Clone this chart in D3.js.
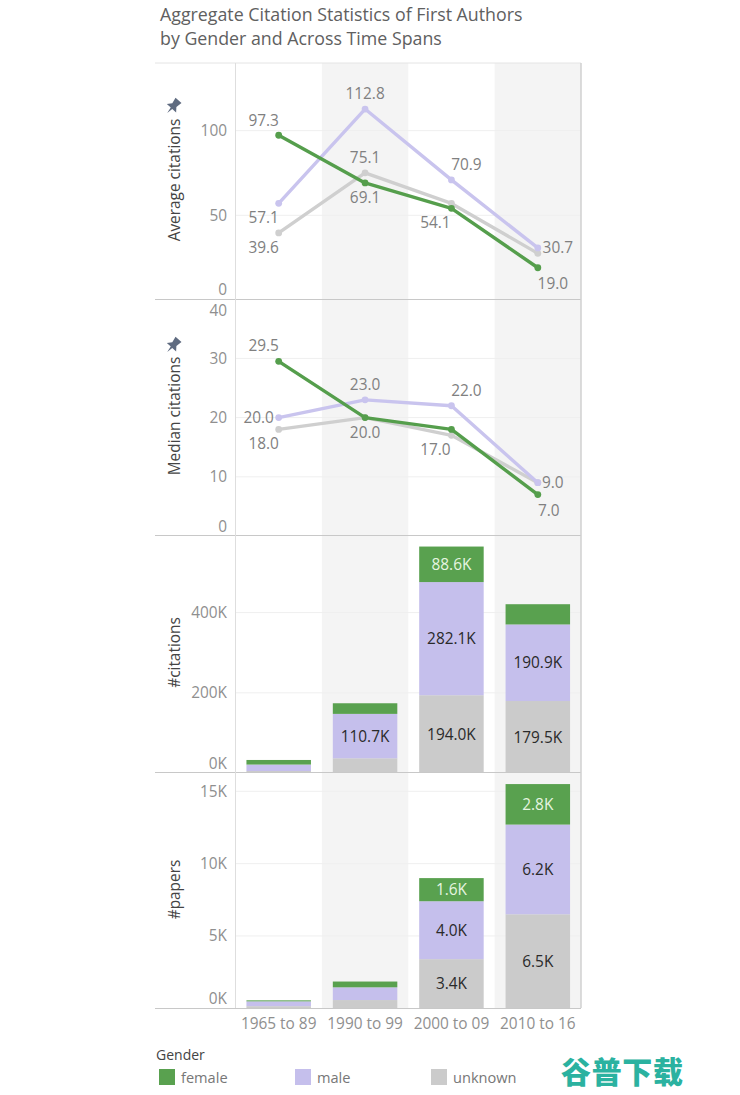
<!DOCTYPE html>
<html>
<head>
<meta charset="utf-8">
<title>Aggregate Citation Statistics</title>
<script src="https://cdn.jsdelivr.net/npm/d3@7"></script>
<style>
  html, body { margin: 0; padding: 0; background: #fff; }
  svg { display: block; font-family: "Open Sans", Lato, sans-serif; }
</style>
</head>
<body>
<svg id="chart" width="740" height="1095"></svg>
<script>
// data
const spans = ["1965 to 89", "1990 to 99", "2000 to 09", "2010 to 16"];
const genders = ["female", "male", "unknown"];

const avgFemale = [97.3, 69.1, 54.1, 19.0];
const avgMale = [57.1, 112.8, 70.9, 30.7];
const avgUnknown = [39.6, 75.1, 57.0, 27.5];

const medFemale = [29.5, 20.0, 18.0, 7.0];
const medMale = [20.0, 23.0, 22.0, 9.0];
const medUnknown = [18.0, 20.0, 17.0, 9.0];

const citFemale = [11.5, 26.5, 88.6, 50.5];
const citMale = [16, 110.7, 282.1, 190.9];
const citUnknown = [5, 36.7, 194.0, 179.5];

const papFemale = [0.07, 0.4, 1.6, 2.8];
const papMale = [0.33, 0.88, 4.0, 6.2];
const papUnknown = [0.15, 0.57, 3.4, 6.5];

const avgTicks = [0, 50, 100];
const medTicks = [0, 10, 20, 30, 40];
const citTicks = [0, 200, 400];
const papTicks = [0, 5, 10, 15];

const colors = { female: "#59a14f", male: "#c5bfec", unknown: "#cbcbcb" };
const lineColors = { female: "#559e4c", male: "#c9c4ee", unknown: "#cfcfcf" };

const svg = d3.select("#chart");
const left = 155, axisX = 235.5, right = 581;
const textSize = 15.4;

const x = d3.scaleBand().domain(spans).range([axisX, right]).paddingInner(0).paddingOuter(0);
const barW = 64.5;
const cx = d => x(d) + x.bandwidth() / 2;

// title
svg.append("text").attr("x", 160).attr("y", 21).attr("font-size", 17.8).attr("fill", "#606060")
  .text("Aggregate Citation Statistics of First Authors");
svg.append("text").attr("x", 160).attr("y", 45).attr("font-size", 17.8).attr("fill", "#606060")
  .text("by Gender and Across Time Spans");

// grey bands behind every panel
svg.selectAll("rect.band").data([spans[1], spans[3]]).join("rect")
  .attr("class", "band")
  .attr("x", d => x(d)).attr("y", 63)
  .attr("width", x.bandwidth()).attr("height", 1008 - 63)
  .attr("fill", "#f4f4f4");

function panel(top, bottom, maxVal, ticks, fmt, title, titleY, pinY) {
  const y = d3.scaleLinear().domain([0, maxVal]).range([bottom, top]);
  const g = svg.append("g");
  // gridlines
  g.selectAll("line.grid").data(ticks.filter(t => t > 0 && y(t) > top + 1)).join("line")
    .attr("x1", axisX).attr("x2", right)
    .attr("y1", d => y(d)).attr("y2", d => y(d))
    .attr("stroke", "#efefef");
  // tick labels, nudged inside the panel at its edges
  g.selectAll("text.tick").data(ticks).join("text")
    .attr("x", 227).attr("text-anchor", "end")
    .attr("y", d => {
      let p = y(d) + 5.5;
      if (p > bottom - 4.5) p = bottom - 4.5;
      if (p < top + 16.5) p = top + 16.5;
      return p;
    })
    .attr("font-size", textSize).attr("fill", "#8f8f8f")
    .text(fmt);
  svg.append("text")
    .attr("transform", `translate(180,${titleY}) rotate(-90)`)
    .attr("text-anchor", "middle")
    .attr("font-size", textSize).attr("fill", "#444")
    .text(title);
  if (pinY) {
    // little pin glyph above the axis title
    svg.append("path")
      .attr("transform", `translate(173.5,${pinY}) rotate(42) scale(1.25)`)
      .attr("d", "M-3.2,-6 L3.2,-6 L2.2,-1 L5,2.4 L0.8,2.4 L0,7.5 L-0.8,2.4 L-5,2.4 L-2.2,-1 Z")
      .attr("fill", "#5f6b80");
  }
  return y;
}

function lines(y, series, labelOffsets) {
  // draw order: unknown, male, female on top
  ["unknown", "male", "female"].forEach(k => {
    const line = d3.line().x((d, i) => cx(spans[i])).y(d => y(d));
    svg.append("path").attr("d", line(series[k]))
      .attr("fill", "none").attr("stroke", lineColors[k]).attr("stroke-width", 3.4)
      .attr("stroke-linejoin", "round");
    svg.selectAll(null).data(series[k]).join("circle")
      .attr("cx", (d, i) => cx(spans[i])).attr("cy", d => y(d)).attr("r", 3.4)
      .attr("fill", lineColors[k]);
  });
  labelOffsets.forEach(l => {
    svg.append("text")
      .attr("x", cx(spans[l.i]) + l.dx).attr("y", y(series[l.k][l.i]) + l.dy)
      .attr("text-anchor", "middle").attr("font-size", textSize).attr("fill", "#808080")
      .text(series[l.k][l.i].toFixed(1));
  });
}

function bars(y, series, labels) {
  const stack = d3.stack().keys(["unknown", "male", "female"]);
  const rows = spans.map((s, i) => ({ s, unknown: series.unknown[i], male: series.male[i], female: series.female[i] }));
  stack(rows).forEach(layer => {
    svg.selectAll(null).data(layer).join("rect")
      .attr("x", d => cx(d.data.s) - barW / 2).attr("width", barW)
      .attr("y", d => y(d[1])).attr("height", d => y(d[0]) - y(d[1]))
      .attr("fill", colors[layer.key]);
    svg.selectAll(null).data(layer.filter((d, i) => labels[layer.key][i])).join("text")
      .attr("x", d => cx(d.data.s)).attr("y", d => (y(d[0]) + y(d[1])) / 2 + 5.5)
      .attr("text-anchor", "middle").attr("font-size", textSize)
      .attr("fill", layer.key === "female" ? "#e6f5e0" : "#2a2a2a")
      .text(d => (d[1] - d[0]).toFixed(1) + "K");
  });
}

// panels
const yAvg = panel(63, 299.9, 140, avgTicks, d => d, "Average citations", 180, 106);
lines(yAvg, { female: avgFemale, male: avgMale, unknown: avgUnknown }, [
  { k: "female", i: 0, dx: -15, dy: -9.5 },
  { k: "male", i: 0, dx: -15, dy: 20 },
  { k: "unknown", i: 0, dx: -15, dy: 20 },
  { k: "male", i: 1, dx: 0, dy: -10 },
  { k: "unknown", i: 1, dx: 0, dy: -10 },
  { k: "female", i: 1, dx: 0, dy: 20 },
  { k: "male", i: 2, dx: 15, dy: -9.5 },
  { k: "female", i: 2, dx: -16, dy: 20 },
  { k: "male", i: 3, dx: 20, dy: 5 },
  { k: "female", i: 3, dx: 15, dy: 21 }
]);

const yMed = panel(299.2, 536, 40, medTicks, d => d, "Median citations", 416, 345);
lines(yMed, { female: medFemale, male: medMale, unknown: medUnknown }, [
  { k: "female", i: 0, dx: -15, dy: -10 },
  { k: "male", i: 0, dx: -20, dy: 5 },
  { k: "unknown", i: 0, dx: -15, dy: 20 },
  { k: "male", i: 1, dx: 0, dy: -10 },
  { k: "female", i: 1, dx: 0, dy: 20 },
  { k: "male", i: 2, dx: 15, dy: -10 },
  { k: "unknown", i: 2, dx: -16, dy: 20 },
  { k: "male", i: 3, dx: 15, dy: 5 },
  { k: "female", i: 3, dx: 11, dy: 21 }
]);

const yCit = panel(536, 773, 591, citTicks, d => d + "K", "#citations", 652.5, null);
bars(yCit, { female: citFemale, male: citMale, unknown: citUnknown }, {
  female: [0, 0, 1, 0], male: [0, 1, 1, 1], unknown: [0, 0, 1, 1]
});

const yPap = panel(772.5, 1008.3, 16.3, papTicks, d => d + "K", "#papers", 889.5, null);
bars(yPap, { female: papFemale, male: papMale, unknown: papUnknown }, {
  female: [0, 0, 1, 1], male: [0, 0, 1, 1], unknown: [0, 0, 1, 1]
});

// frame lines
[63, 299.5, 535.5, 772.5, 1008.5].forEach(yy => {
  svg.append("line").attr("x1", left).attr("x2", right).attr("y1", yy).attr("y2", yy)
    .attr("stroke", yy === 63 ? "#e4e4e4" : "#c8c8c8");
});
svg.append("line").attr("x1", axisX).attr("x2", axisX).attr("y1", 63).attr("y2", 1008).attr("stroke", "#dedede");
svg.append("line").attr("x1", right).attr("x2", right).attr("y1", 63).attr("y2", 1008).attr("stroke", "#d0d0d0").attr("stroke-width", 1.5);

// bottom axis
svg.selectAll("text.xt").data(spans).join("text")
  .attr("x", d => cx(d)).attr("y", 1029)
  .attr("text-anchor", "middle").attr("font-size", textSize).attr("fill", "#8f8f8f")
  .text(d => d);

// legend
svg.append("text").attr("x", 156).attr("y", 1060).attr("font-size", 14).attr("fill", "#444").text("Gender");
const legendX = d3.scaleOrdinal().domain(genders).range([159, 295, 431]);
genders.forEach(k => {
  svg.append("rect").attr("x", legendX(k)).attr("y", 1069).attr("width", 16).attr("height", 16).attr("fill", colors[k]);
  svg.append("text").attr("x", legendX(k) + 22).attr("y", 1083).attr("font-size", 14.6).attr("fill", "#777").text(k);
});

// site mark in the corner of the picture
svg.append("text").attr("x", 561).attr("y", 1083).attr("font-size", 30).attr("font-weight", 900)
  .attr("font-family", "'Noto Sans CJK SC'").attr("fill", "#2bb2a0").attr("textLength", 122)
  .text("谷普下载");
</script>
</body>
</html>
